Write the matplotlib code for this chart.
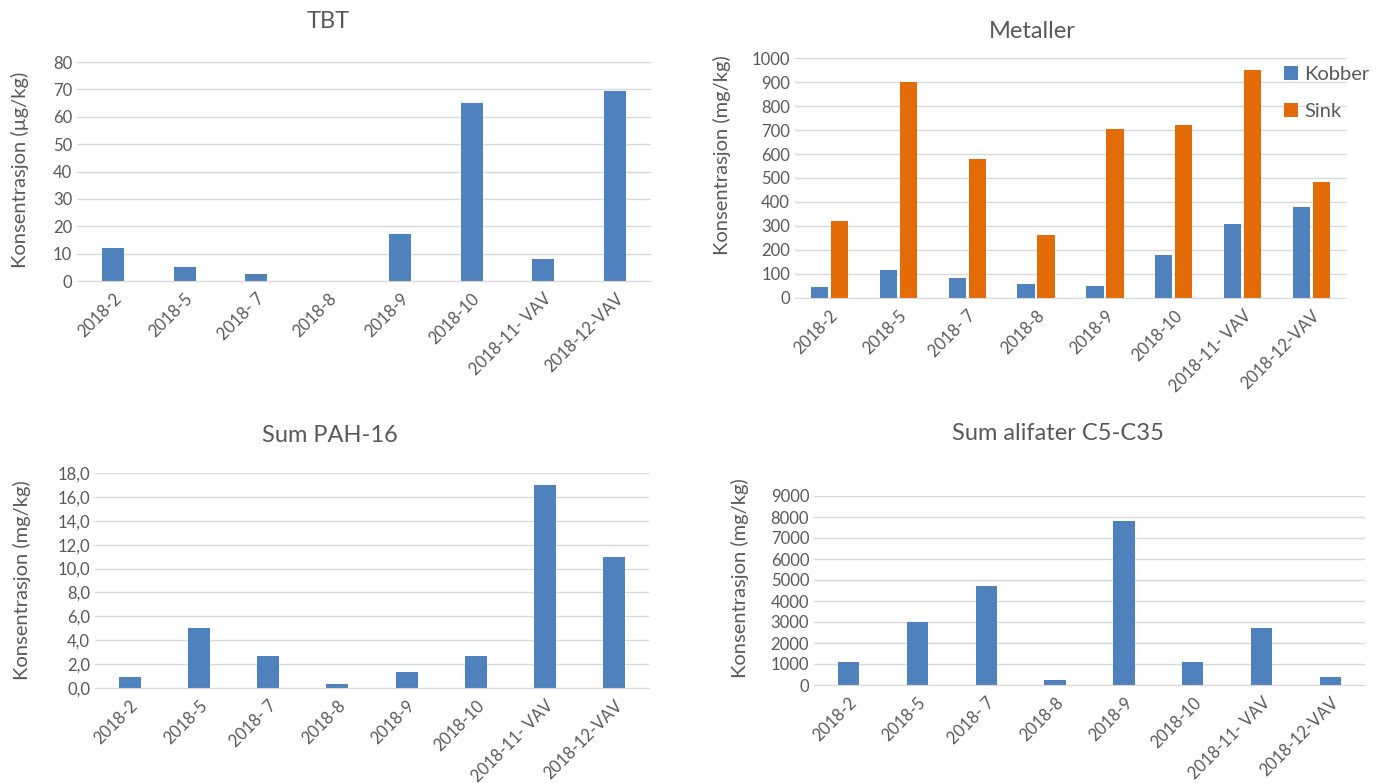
import numpy as np
import matplotlib
matplotlib.use("Agg")
import matplotlib.pyplot as plt
from matplotlib.ticker import FuncFormatter

plt.rcParams['font.family'] = ['Lato', 'DejaVu Sans']

# data
stations = ["2018-2", "2018-5", "2018- 7", "2018-8", "2018-9", "2018-10",
            "2018-11- VAV", "2018-12-VAV"]
tbt = [12, 5, 2.5, 0, 17, 65, 8, 69.5]
kobber = [45, 115, 82, 57, 50, 178, 307, 378]
sink = [320, 900, 580, 262, 703, 720, 952, 485]
pah16 = [0.9, 5.0, 2.7, 0.3, 1.3, 2.7, 17.0, 11.0]
alifater = [1100, 3000, 4700, 250, 7800, 1100, 2700, 380]

BLUE = "#4F81BD"
ORANGE = "#E36C09"
GRID = "#D9D9D9"
TEXT = "#595959"

fig = plt.figure(figsize=(13.85, 7.83), dpi=100)
W, H = 1385, 783


def make_ax(x0, x1, ytop, ybot):
    return fig.add_axes([x0 / W, 1 - ybot / H, (x1 - x0) / W, (ybot - ytop) / H])


def style(ax, title, ylabel, ymax, step, title_xy, ylabel_xy, fmt=None):
    x = np.arange(len(stations))
    ax.set_xlim(-0.5, len(stations) - 0.5)
    ax.set_ylim(0, ymax)
    ax.set_yticks(np.arange(0, ymax + step / 2, step))
    if fmt:
        ax.yaxis.set_major_formatter(FuncFormatter(fmt))
    ax.set_xticks(x)
    ax.set_xticklabels(stations, rotation=45, ha='right', rotation_mode='anchor')
    ax.grid(axis='y', color=GRID, linewidth=1)
    ax.set_axisbelow(True)
    for s in ["top", "right", "left"]:
        ax.spines[s].set_visible(False)
    ax.spines["bottom"].set_color(GRID)
    ax.tick_params(axis='both', length=0, colors=TEXT, labelsize=12)
    ax.tick_params(axis='x', pad=7)
    fig.text(title_xy[0] / W, 1 - title_xy[1] / H, title, ha='center', va='center',
             fontsize=17, color=TEXT)
    fig.text(ylabel_xy[0] / W, 1 - ylabel_xy[1] / H, ylabel, ha='center', va='center',
             rotation=90, fontsize=14.5, color=TEXT)


# TBT
ax1 = make_ax(77, 651, 62, 281)
ax1.bar(np.arange(len(stations)), tbt, width=0.31, color=BLUE)
style(ax1, "TBT", "Konsentrasjon (µg/kg)", 80, 10, (328, 22), (20, 170))

# Metaller
ax2 = make_ax(795, 1346, 58, 298)
x = np.arange(len(stations))
ax2.bar(x - 0.145, kobber, width=0.25, color=BLUE, label="Kobber")
ax2.bar(x + 0.145, sink, width=0.25, color=ORANGE, label="Sink")
style(ax2, "Metaller", "Konsentrasjon (mg/kg)", 1000, 100, (1032, 32), (722, 155))
ax2.legend(loc='upper left', bbox_to_anchor=(1276 / W, 1 - 58 / H),
           bbox_transform=fig.transFigure, frameon=False, fontsize=14.5,
           labelcolor=TEXT, handlelength=0.7, handleheight=0.7,
           handletextpad=0.3, labelspacing=1.0, borderaxespad=0)

# Sum PAH-16
ax3 = make_ax(95, 649, 473, 688)
ax3.bar(np.arange(len(stations)), pah16, width=0.32, color=BLUE)
style(ax3, "Sum PAH-16", "Konsentrasjon (mg/kg)", 18, 2, (330, 435), (22, 580),
      fmt=lambda v, p: f"{v:.1f}".replace(".", ","))

# Sum alifater C5-C35
ax4 = make_ax(814, 1365, 496, 685)
ax4.bar(np.arange(len(stations)), alifater, width=0.31, color=BLUE)
style(ax4, "Sum alifater C5-C35", "Konsentrasjon (mg/kg)", 9000, 1000, (1058, 433),
      (740, 578))

fig.savefig("out.png", dpi=100)
